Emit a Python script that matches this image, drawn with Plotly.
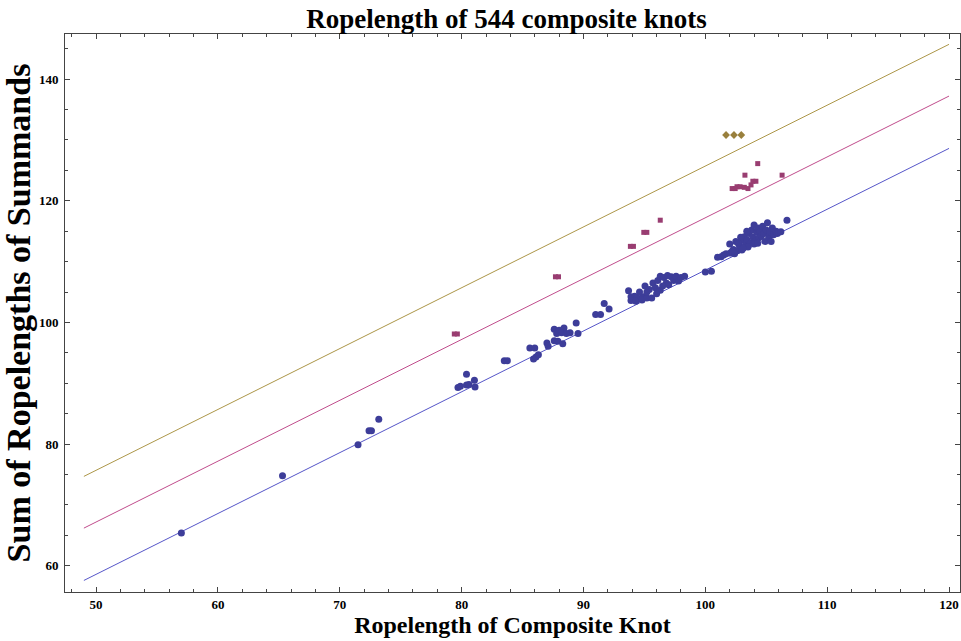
import plotly.graph_objects as go

# ---- data ----
two_x = [57.0, 65.3, 71.5, 72.4, 72.6, 73.2, 79.7, 79.9, 80.4, 80.6, 80.4, 81.05, 81.1,
         83.5, 83.75, 85.6, 86.0, 85.9, 86.1, 86.3, 87.0, 87.1, 87.6, 88.0, 88.4, 87.8,
         88.2, 88.6, 87.6, 87.9, 88.3, 89.4, 89.55, 88.9, 91.0, 91.4, 91.7, 92.1, 93.7,
         93.9, 94.2, 94.4, 94.9, 93.9, 94.3, 94.8, 95.2, 95.05, 95.4, 95.6, 95.7, 95.9,
         96.1, 96.3, 96.3, 96.6, 96.8, 96.9, 97.2, 97.4, 97.6, 97.8, 98.0, 98.3, 96.0,
         96.5, 97.0, 95.2, 94.6, 100.0, 100.5, 101.0, 101.3, 101.5, 101.7, 102.0, 102.05,
         102.3, 102.5, 102.6, 102.8, 103.0, 103.0, 103.2, 103.3, 103.4, 103.6, 103.7,
         103.8, 103.9, 104.0, 104.1, 104.2, 104.3, 104.4, 104.5, 104.6, 104.7, 104.8,
         104.9, 105.0, 105.1, 105.2, 105.3, 105.4, 105.5, 105.6, 105.8, 105.9, 106.0,
         106.2, 106.7, 102.7, 103.5, 104.0, 104.3, 102.9, 103.4, 103.1, 102.4, 102.2]
two_y = [65.4, 74.8, 79.9, 82.2, 82.2, 84.1, 89.3, 89.5, 89.7, 89.8, 91.5, 90.5, 89.4,
         93.7, 93.7, 95.8, 95.8, 94.0, 94.3, 94.7, 96.6, 96.1, 98.9, 98.7, 99.1, 98.2,
         98.3, 98.2, 97.0, 96.9, 96.5, 99.9, 98.2, 98.3, 101.3, 101.3, 103.1, 102.2, 105.2,
         104.2, 104.3, 104.1, 104.2, 103.6, 103.5, 103.7, 104.0, 106.0, 105.4, 104.0, 106.5,
         105.7, 106.9, 107.6, 105.3, 107.4, 106.5, 107.7, 107.5, 106.9, 107.6, 106.8, 107.4,
         107.6, 104.7, 106.0, 106.2, 105.0, 105.0, 108.3, 108.4, 110.7, 110.8, 111.1, 111.3,
         112.9, 111.4, 112.0, 113.3, 111.8, 112.6, 113.5, 111.9, 114.1, 112.8, 113.6, 114.6,
         113.0, 115.2, 114.0, 116.0, 113.4, 114.8, 115.5, 113.9, 115.0, 114.2, 115.8, 114.6,
         113.3, 115.2, 116.4, 114.0, 114.9, 113.3, 115.5, 114.4, 115.0, 114.6, 114.8, 114.9,
         116.8, 113.0, 112.4, 112.9, 113.0, 114.0, 115.0, 112.2, 111.3, 111.7]

three_x = [79.4, 79.65, 87.7, 87.95, 93.85, 94.1, 94.95, 95.2, 96.3, 102.2, 102.45, 102.6,
           102.85, 103.25, 103.5, 103.2, 103.75, 103.9, 104.15, 104.3, 106.3]
three_y = [98.1, 98.1, 107.5, 107.5, 112.5, 112.5, 114.8, 114.8, 116.8, 122.0, 122.0, 122.3,
           122.3, 124.2, 122.0, 122.2, 122.6, 123.2, 123.2, 126.1, 124.2]

four_x = [101.7, 102.35, 102.95]
four_y = [130.8, 130.8, 130.8]

line_x = [49, 120]
line1_y = [57.6, 128.6]
line2_y = [66.2, 137.2]
line3_y = [74.7, 145.7]

x_ticks = [50, 60, 70, 80, 90, 100, 110, 120]
y_ticks = [60, 80, 100, 120, 140]

FONT = "Liberation Serif"

fig = go.Figure()
fig.add_trace(go.Scatter(x=line_x, y=line1_y, mode="lines",
                         line=dict(color="rgb(85,85,200)", width=1), hoverinfo="skip"))
fig.add_trace(go.Scatter(x=line_x, y=line2_y, mode="lines",
                         line=dict(color="rgb(192,76,140)", width=1), hoverinfo="skip"))
fig.add_trace(go.Scatter(x=line_x, y=line3_y, mode="lines",
                         line=dict(color="rgb(172,150,72)", width=1), hoverinfo="skip"))
fig.add_trace(go.Scatter(x=two_x, y=two_y, mode="markers",
                         marker=dict(symbol="circle", size=7, color="rgb(61,61,153)", line=dict(width=0))))
fig.add_trace(go.Scatter(x=three_x, y=three_y, mode="markers",
                         marker=dict(symbol="square", size=5, color="rgb(153,61,113)", line=dict(width=0))))
fig.add_trace(go.Scatter(x=four_x, y=four_y, mode="markers",
                         marker=dict(symbol="diamond", size=6, color="rgb(153,128,61)", line=dict(width=0))))

axis_common = dict(showgrid=False, zeroline=False, showline=True, linecolor="#444",
                   linewidth=1, mirror="allticks", ticks="inside", ticklen=5,
                   tickcolor="#444", tickwidth=1, automargin=False,
                   tickfont=dict(family=FONT, size=13, color="black", weight="bold"))

fig.update_layout(
    width=961, height=641,
    margin=dict(l=65, r=1, t=34, b=49, autoexpand=False),
    paper_bgcolor="white", plot_bgcolor="white",
    showlegend=False,
    title=dict(text="<b>Ropelength of 544 composite knots</b>", x=0.527, y=0.971,
               xanchor="center", yanchor="middle", automargin=False,
               font=dict(family=FONT, size=27, color="black")),
    xaxis=dict(range=[47.45, 120.9], tickvals=x_ticks,
               minor=dict(dtick=2, ticks="inside", ticklen=3, tickcolor="#444"),
               title=dict(text="<b>Ropelength of Composite Knot</b>", standoff=2,
                          font=dict(family=FONT, size=24, color="black")),
               **axis_common),
    yaxis=dict(range=[55.7, 147.4], tickvals=y_ticks, ticklabelstandoff=3,
               minor=dict(dtick=5, ticks="inside", ticklen=3, tickcolor="#444"),
               title=dict(text="<b>Sum of Ropelengths of Summands</b>", standoff=6,
                          font=dict(family=FONT, size=34, color="black")),
               **axis_common),
)

# remove the default page margin so the 961x641 figure fills the window exactly
fig.write_html("out.html", config={"displayModeBar": False},
               post_script="document.body.style.margin='0';document.body.style.overflow='hidden';")
